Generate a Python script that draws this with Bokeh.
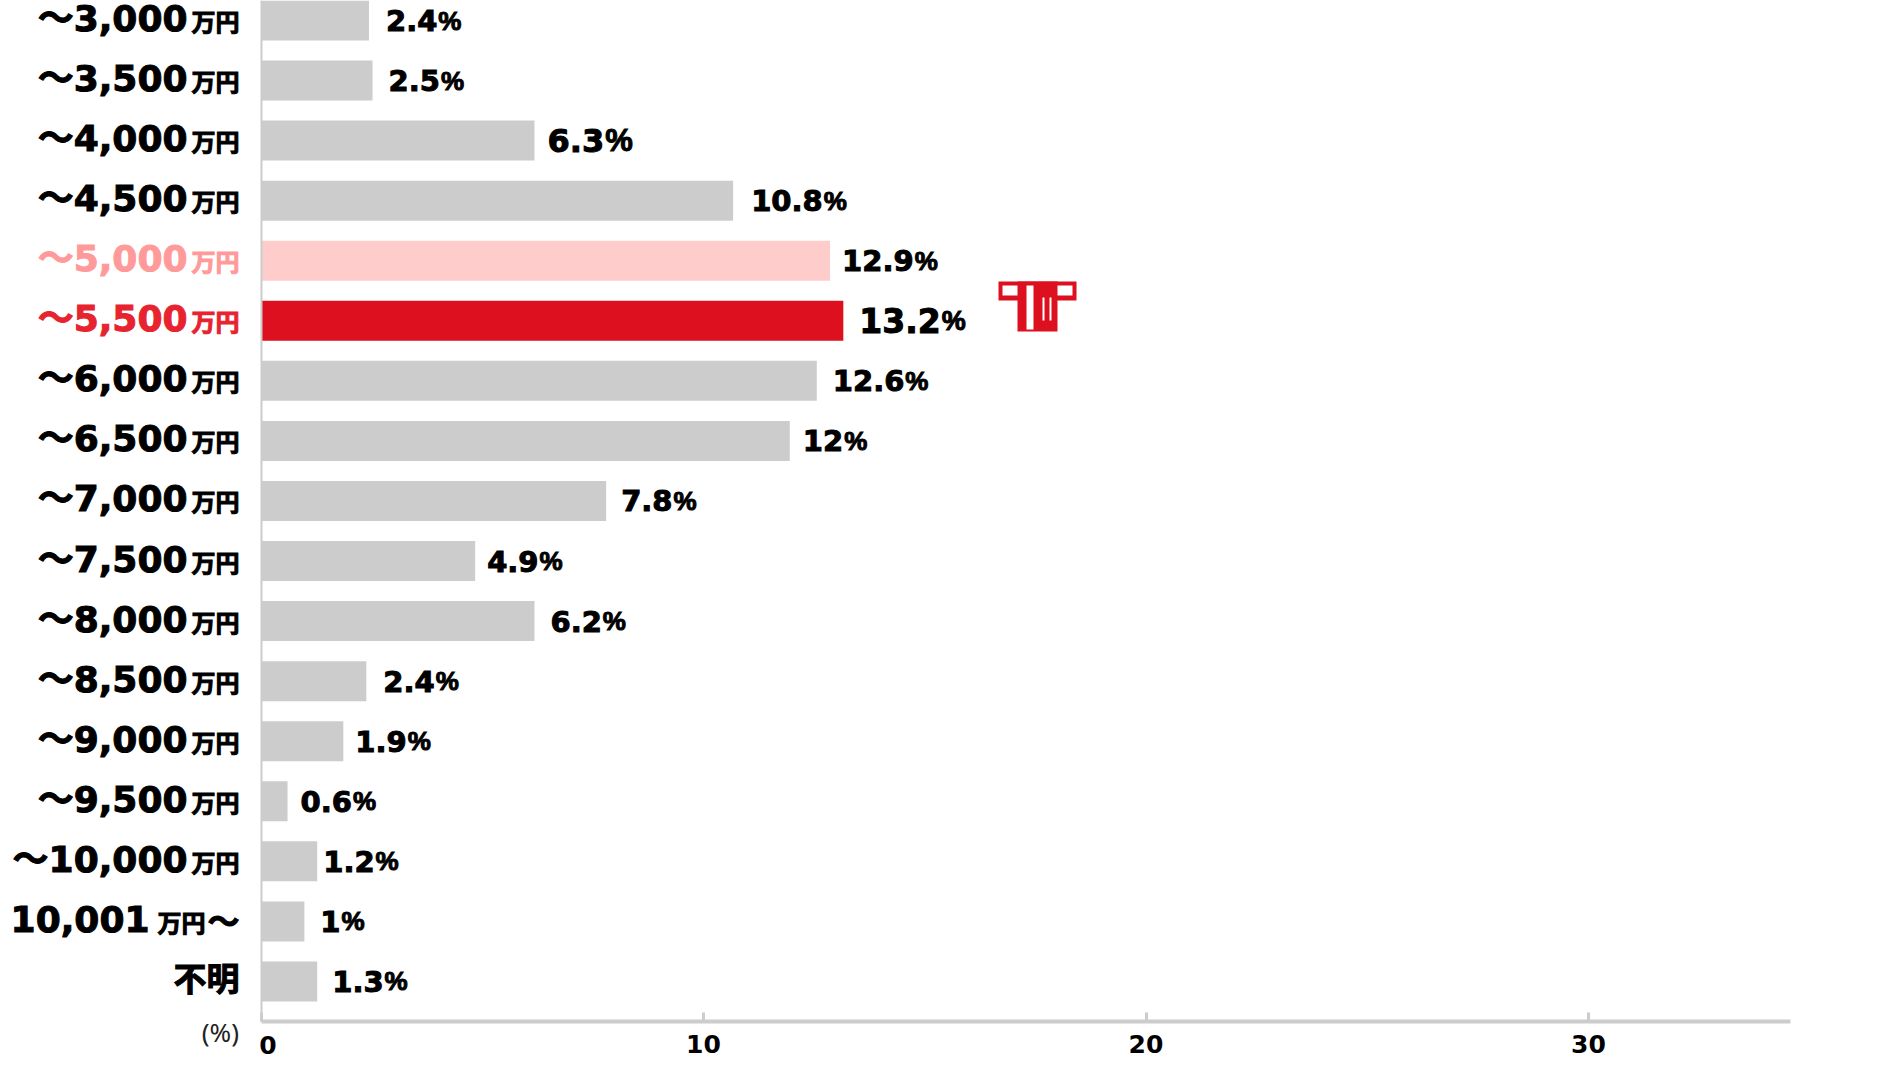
from bokeh.plotting import figure
from bokeh.models import ColumnDataSource, Label, Range1d, FixedTicker
from bokeh.embed import file_html
from bokeh.resources import INLINE

cat_main = ["〜3,000","〜3,500","〜4,000","〜4,500","〜5,000","〜5,500","〜6,000","〜6,500","〜7,000","〜7,500","〜8,000","〜8,500","〜9,000","〜9,500","〜10,000","10,001","不明"]
cat_unit = ["万円"]*15 + ["万円",""]
cat_tail = [""]*15 + ["〜",""]
bar_values = [2.44,2.52,6.18,10.67,12.86,13.16,12.56,11.95,7.8,4.84,6.18,2.38,1.86,0.6,1.27,0.98,1.27]
value_text = ["2.4","2.5","6.3","10.8","12.9","13.2","12.6","12","7.8","4.9","6.2","2.4","1.9","0.6","1.2","1","1.3"]
x_ticks = [0,10,20,30]

# styling tables
GRAY="#cccccc"; RED="#dc101e"; PINK="#ffcccc"
bar_colors=[GRAY]*17; bar_colors[4]=PINK; bar_colors[5]=RED
cat_colors=["#000000"]*17; cat_colors[4]="#ff9a9a"; cat_colors[5]="#e6232e"
label_gaps=[17,16,13,18,12,16,16,13,15,12,16,17,12,13,6,16,15]
value_sizes=[29,29,32,29,29,33,29,29,29,29,29,29,29,29,29,29,29]
pct_sizes=[26,26,31,26,26,27,26,26,26,26,26,26,26,26,26,26,26]

W,H=1900,1067
ORIGIN=260.5; SCALE=44.25; RIGHT_PAGE=1790; BOTTOM_PAGE=1021
PITCH=60.06
def ydata(py): return (py-20)/PITCH
def xdata(px): return (px-ORIGIN)/SCALE
p=figure(width=W,height=H,output_backend="svg",toolbar_location=None,
         x_range=Range1d(xdata(0),xdata(W)),y_range=Range1d(ydata(H),ydata(0)),
         min_border_left=0,min_border_right=0,min_border_top=0,min_border_bottom=0,
         outline_line_color=None,background_fill_color="white",border_fill_color="white")
p.grid.visible=False
n=len(cat_main)
src=ColumnDataSource(dict(y=list(range(n)),x0=[0]*n,v=bar_values,c=bar_colors))
p.hbar(y="y",left="x0",right="v",height=40/PITCH,color="c",source=src,line_color=None)

p.xaxis.ticker=FixedTicker(ticks=x_ticks)
p.xaxis.major_label_overrides={0:" "}
ax=p.xaxis[0]
ax.fixed_location=ydata(BOTTOM_PAGE); ax.bounds=(0,xdata(RIGHT_PAGE))
ax.axis_line_color=GRAY;ax.axis_line_width=4
ax.major_tick_line_color=GRAY;ax.major_tick_line_width=3;ax.major_tick_in=9;ax.major_tick_out=0
ax.minor_tick_line_color=None
ax.major_label_text_font="DejaVu Sans";ax.major_label_text_font_style="bold";ax.major_label_text_font_size="25px";ax.major_label_text_color="#000000"
ax.major_label_standoff=8
ay=p.yaxis[0]
ay.fixed_location=xdata(261); ay.bounds=(ydata(BOTTOM_PAGE),ydata(0))
ay.axis_line_color=GRAY;ay.axis_line_width=2;ay.major_tick_line_color=None;ay.minor_tick_line_color=None
ay.ticker=FixedTicker(ticks=[])

FONT="DejaVu Sans, 'Noto Sans CJK JP'"
CJK="Noto Sans CJK JP"
def lbl(x,y,t,ox,oy,c,s,f,st="bold",al="left",heavy=True):
    if t:
        p.add_layout(Label(x=x,y=y,text=t,x_offset=ox,y_offset=oy,text_color=c,text_font_size=f"{s}px",text_font=f,text_font_style=st,text_align=al,text_baseline="middle",text_outline_color=c if heavy else None))

def em(s):
    return sum(0.38 if ch=="." else 0.696 for ch in s)
for i in range(n):
    mo=-73.5; uo=-21.5
    if i==15: mo,uo=-111.5,-55.5
    if i==16: mo=-21.5
    lbl(0,i,cat_main[i],mo,4 if i==16 else 2,cat_colors[i],33 if i==16 else 36,CJK if i==16 else FONT,al="right")
    lbl(0,i,cat_unit[i],uo,0,cat_colors[i],24,CJK,al="right")
    lbl(0,i,cat_tail[i],-21.5,2,"#000000",32,CJK,al="right")
    g=label_gaps[i]
    lbl(bar_values[i],i,value_text[i],g,0,"#000000",value_sizes[i],"DejaVu Sans")
    lbl(bar_values[i],i,"%",g+em(value_text[i])*value_sizes[i]+1,0,"#000000",pct_sizes[i],"Liberation Sans")

# axis annotations
lbl(0,ydata(BOTTOM_PAGE),"(%)",-22,-10,"#222222",26,"Noto Sans",st="normal",al="right",heavy=False)
lbl(0,ydata(BOTTOM_PAGE),"0",7,-23,"#000000",25,"DejaVu Sans",al="center",heavy=False)

# icon, placed through the same helpers
def box(l,r,t,b,c):
    p.quad(left=xdata(l),right=xdata(r),top=ydata(t),bottom=ydata(b),color=c,line_color=None)
box(998,1076,281,300,RED); box(1017,1057,281,331,RED)
box(1002,1017,285,295,"white"); box(1057,1072,285,295,"white")
box(1026,1033,285,329,"white"); box(1042,1044,297,320,"white"); box(1049,1051,297,320,"white")

open("out.html","w").write(file_html(p,INLINE))
